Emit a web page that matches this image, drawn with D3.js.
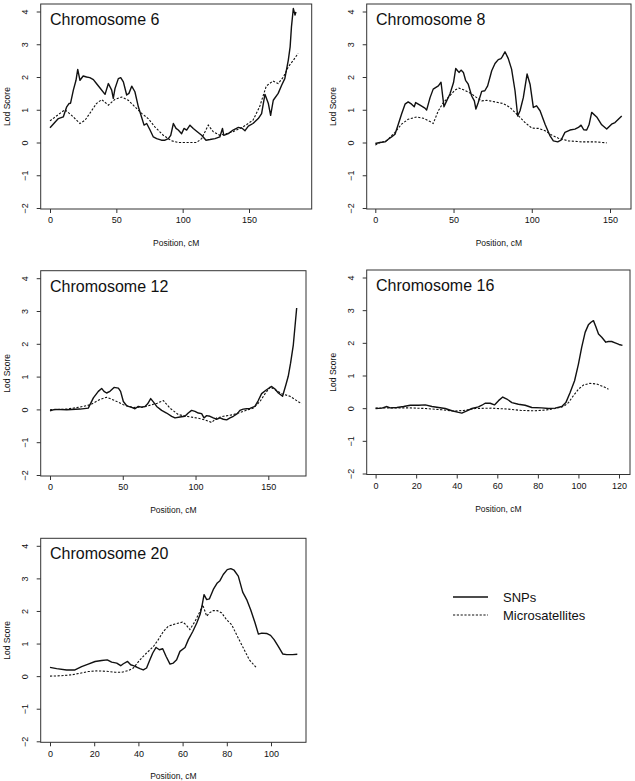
<!DOCTYPE html>
<html><head><meta charset="utf-8">
<script src="https://cdn.jsdelivr.net/npm/d3@7"></script>
<style>
html,body{margin:0;padding:0;background:#fff;}
svg{display:block;font-family:"Liberation Sans",Arial,Helvetica,sans-serif;}
</style></head>
<body>
<svg id="chart" width="635" height="781"></svg>
<script>
// ---------- DATA ----------
const chromosomes = ["Chromosome 6","Chromosome 8","Chromosome 12","Chromosome 16","Chromosome 20"];
const seriesNames = ["SNPs","Microsatellites"];
const yTicks = [-2,-1,0,1,2,3,4];
const xTicks6 = [0,50,100,150];
const xTicks8 = [0,50,100,150];
const xTicks12 = [0,50,100,150];
const xTicks16 = [0,20,40,60,80,100,120];
const xTicks20 = [0,20,40,60,80,100];

const chr6Snp = [[0,0.45],[6.3,0.73],[10,0.78],[12.6,1.09],[14.3,1.19],[15.5,1.2],[17.6,1.6],[19.6,1.9],[20.9,2.23],[22.6,1.9],[25,2.03],[27.6,2.0],[30,1.98],[32.7,1.92],[35,1.8],[38,1.65],[41.5,1.47],[44,1.8],[46.5,1.6],[47.7,1.35],[49,1.65],[51.5,1.95],[53.3,1.98],[55.3,1.85],[57.8,1.45],[59.5,1.5],[61.6,1.72],[64,1.55],[66.6,1.09],[69,0.78],[70.9,0.53],[72.9,0.58],[75.4,0.38],[77.9,0.17],[80.4,0.12],[84,0.07],[86.7,0.07],[89.2,0.12],[91,0.22],[93,0.58],[95,0.43],[96.7,0.38],[99.2,0.27],[101,0.43],[103,0.38],[105.5,0.53],[108,0.43],[111,0.33],[114.3,0.22],[117.6,0.07],[120.6,0.09],[124.4,0.12],[128,0.17],[130,0.43],[131,0.22],[134.4,0.27],[138,0.38],[142,0.46],[145,0.43],[147,0.36],[149.5,0.5],[153,0.58],[157,0.73],[159.5,0.88],[162,1.47],[164.6,1.19],[166.3,0.83],[168.3,1.29],[172,1.5],[174.6,1.75],[177,1.95],[179.6,2.51],[181,2.92],[182,3.53],[183.4,4.09],[184.7,3.89],[185.4,3.99]];
const chr6Ms = [[0,0.66],[7.5,0.89],[11.3,1.0],[16.3,0.83],[22.6,0.58],[26.4,0.68],[30,0.89],[35,1.19],[39,1.31],[44,1.14],[49,1.32],[54,1.39],[59,1.29],[64,1.09],[69,0.89],[74,0.73],[79,0.48],[85.4,0.22],[91.7,0.05],[96.7,0],[103,0],[110.5,0],[114.3,0.12],[119.3,0.53],[123,0.33],[128,0.22],[133,0.27],[138,0.33],[145.7,0.48],[153,0.68],[158,1.09],[163,1.72],[168,1.88],[172,1.8],[176,2.0],[179.6,2.31],[183.4,2.51],[187,2.72]];

const chr8Snp = [[0,-0.03],[3,0],[6.2,0.02],[8.3,0.1],[10.4,0.17],[12.6,0.25],[14.7,0.56],[16.8,0.87],[19,1.17],[21,1.24],[23.2,1.17],[24.9,1.09],[25.8,1.22],[28.6,1.14],[31.7,1.05],[32.8,0.99],[35,1.37],[37,1.63],[40.3,1.73],[42,1.84],[43.9,1.09],[45.6,1.27],[47.7,1.48],[50,1.83],[51.4,2.26],[52.6,2.19],[53.5,2.14],[54.8,2.21],[56.3,2.14],[57.7,1.9],[59.4,1.78],[61.6,1.42],[63.3,1.27],[64.3,1.02],[65.8,1.22],[68,1.56],[70,1.58],[71.8,1.73],[74.4,2.19],[76.5,2.41],[78.6,2.53],[80.3,2.56],[81.2,2.62],[82.9,2.77],[85,2.56],[87.1,2.24],[89.3,1.58],[91,0.81],[92.5,0.97],[94.6,1.37],[97,2.09],[98.9,1.78],[101,1.07],[103.1,1.12],[105.3,0.97],[108.5,0.56],[111.7,0.2],[113.8,0.05],[116.6,0.02],[118.7,0.07],[121.2,0.31],[124.4,0.38],[127.6,0.41],[129.8,0.46],[131.5,0.53],[133.2,0.39],[135.1,0.38],[136.6,0.54],[138.3,0.92],[141.5,0.78],[144.7,0.54],[147.9,0.41],[151,0.56],[153.2,0.61],[157.5,0.81]];
const chr8Ms = [[0,-0.08],[3,0],[7.2,0.05],[12.6,0.31],[16.8,0.56],[21,0.71],[26.4,0.78],[30.7,0.74],[35,0.64],[37,0.58],[40.3,0.97],[43.5,1.22],[47.7,1.43],[50.9,1.6],[53.5,1.66],[56.9,1.6],[61.6,1.48],[65.4,1.35],[68,1.27],[71.2,1.29],[76.5,1.24],[81.8,1.19],[86.1,1.07],[90.3,0.87],[95.7,0.61],[100,0.44],[104.2,0.43],[108.5,0.36],[112.7,0.23],[117,0.13],[123.4,0.05],[131.9,0.02],[140.4,0.02],[147.9,-0.01]];

const chr12Snp = [[0,-0.04],[3.4,0],[11.5,-0.01],[20.6,0.01],[26.3,0.04],[29.8,0.35],[33.2,0.55],[35.5,0.64],[37.1,0.55],[38.9,0.5],[41.2,0.55],[44,0.67],[47,0.65],[48.5,0.55],[50.4,0.24],[52.7,0.11],[56.1,0.06],[58.4,0.02],[60.7,0.09],[63,0.07],[65.3,0.09],[67.1,0.17],[69.2,0.33],[71,0.23],[73.3,0.09],[76.7,-0.03],[80.1,-0.11],[83.6,-0.21],[85.9,-0.26],[89.3,-0.23],[92.7,-0.21],[95,-0.11],[97.3,-0.03],[99.6,-0.06],[101.9,-0.11],[104.2,-0.13],[105.8,-0.26],[107.6,-0.19],[109.9,-0.21],[112.2,-0.26],[114.5,-0.3],[116.8,-0.26],[119.1,-0.3],[121.4,-0.32],[123.7,-0.26],[126,-0.21],[128.7,-0.13],[130.5,-0.03],[132.8,0.01],[135.1,0.02],[137.4,0.03],[140.8,0.09],[143.1,0.27],[145.4,0.48],[148.8,0.6],[152.3,0.7],[154.6,0.62],[156.9,0.5],[159.8,0.4],[162.1,0.75],[163.7,1.01],[165.3,1.41],[167.2,1.97],[169.5,3.09]];
const chr12Ms = [[0,-0.01],[11.5,0.01],[20.6,0.07],[27.5,0.14],[34.3,0.3],[38.9,0.37],[44.6,0.27],[50.4,0.14],[57.2,0.06],[64.1,0.07],[69.8,0.14],[73.7,0.19],[77.9,0.27],[82.4,0.04],[88.2,-0.16],[93.9,-0.21],[100.8,-0.26],[106.5,-0.32],[111.1,-0.4],[114.5,-0.26],[119.1,-0.21],[126,-0.16],[132.8,-0.06],[139.7,0.04],[144.3,0.24],[147.8,0.48],[151.2,0.68],[154.7,0.6],[159.2,0.48],[164.9,0.4],[172.9,0.17]];

const chr16Snp = [[0,-0.01],[3.1,0],[5.6,0.05],[7.2,0.01],[10.5,0.02],[13.8,0.05],[17.1,0.09],[21.2,0.09],[24.5,0.1],[27.8,0.05],[31,0.02],[34.3,-0.01],[37.6,-0.08],[40.9,-0.13],[42.5,-0.15],[45,-0.08],[47.5,-0.01],[50.7,0.04],[52.4,0.09],[54,0.15],[56.5,0.15],[58.6,0.1],[60.6,0.23],[62.7,0.34],[64.7,0.28],[67.2,0.17],[70.4,0.12],[73.7,0.09],[77,0.02],[81.9,0.01],[85.2,-0.01],[88.5,0],[91.8,0.05],[93.8,0.17],[95.9,0.48],[98.1,0.84],[100,1.35],[101.6,1.86],[103.3,2.32],[104.9,2.55],[106.2,2.63],[107.4,2.68],[108.5,2.51],[109.9,2.27],[111.5,2.17],[113.5,2.02],[114.8,2.04],[116.4,2.04],[118.1,2.0],[120,1.95],[121.7,1.92]];
const chr16Ms = [[0,0],[6.4,0.01],[16.3,0.01],[24.5,-0.01],[32.7,-0.05],[39.2,-0.09],[43.3,-0.07],[49.1,-0.01],[57.3,0],[65.5,-0.03],[72.1,-0.07],[78.7,-0.08],[83.6,-0.06],[88.5,-0.01],[92.6,0.05],[95.1,0.17],[97.5,0.38],[100,0.58],[102.5,0.71],[105.7,0.76],[109,0.74],[112.3,0.66],[114.8,0.58]];

const chr20Snp = [[0,0.27],[3,0.23],[7.5,0.19],[11.3,0.19],[14.3,0.29],[17.3,0.37],[20.4,0.45],[23.4,0.48],[25.9,0.5],[27.9,0.43],[30.2,0.4],[32,0.32],[33.2,0.38],[35.1,0.45],[36.5,0.35],[37.7,0.32],[39.2,0.28],[40.7,0.23],[42.2,0.19],[43.7,0.25],[45.2,0.5],[46.5,0.71],[48,0.88],[49.5,0.81],[51,0.84],[52.5,0.61],[54.3,0.37],[55.8,0.4],[57.3,0.5],[58.8,0.76],[61.1,0.88],[62.6,1.12],[64.6,1.37],[66.4,1.63],[67.9,1.89],[68.6,2.09],[69.7,2.5],[70.9,2.35],[72.1,2.37],[73.9,2.66],[75.7,2.86],[76.9,2.93],[78.4,3.12],[80.2,3.27],[81.8,3.3],[83.3,3.25],[85.2,3.07],[87.2,2.58],[89,2.35],[90.8,2.04],[92.8,1.63],[94.3,1.29],[95.8,1.32],[98,1.31],[99.8,1.25],[101.4,1.12],[103.3,0.91],[105.3,0.68],[107.1,0.66],[109.8,0.66],[111.9,0.67]];
const chr20Ms = [[0,0],[4.5,0.01],[9.8,0.04],[13.6,0.09],[17.3,0.14],[21.1,0.16],[25.6,0.15],[29.4,0.12],[32.4,0.12],[35.4,0.17],[37.7,0.25],[40.7,0.5],[43.7,0.71],[46.8,0.91],[49,1.12],[51.3,1.37],[53.5,1.53],[56.6,1.6],[60,1.66],[61.5,1.58],[63.3,1.43],[65.6,1.68],[67.9,1.99],[69.1,2.19],[70.9,1.84],[72.1,1.94],[73.9,2.01],[75.7,2.01],[77.7,1.94],[79.9,1.73],[82.2,1.58],[84.8,1.22],[87.5,0.86],[90.2,0.5],[93.5,0.25]];

// ---------- LAYOUT ----------
const panels = [
  {title:chromosomes[0], snp:chr6Snp, ms:chr6Ms, xticks:xTicks6, box:[40.7,4,311.7,209], xa:[0,50], xb:[150,249]},
  {title:chromosomes[1], snp:chr8Snp, ms:chr8Ms, xticks:xTicks8, box:[366.7,4,631,209], xa:[0,375.3], xb:[150,610]},
  {title:chromosomes[2], snp:chr12Snp, ms:chr12Ms, xticks:xTicks12, box:[40.7,270.7,306,476], xa:[0,50], xb:[150,268.3]},
  {title:chromosomes[3], snp:chr16Snp, ms:chr16Ms, xticks:xTicks16, box:[366.7,270,630,474.5], xa:[0,375.6], xb:[120,619]},
  {title:chromosomes[4], snp:chr20Snp, ms:chr20Ms, xticks:xTicks20, box:[40.7,538.3,306,742.3], xa:[0,50], xb:[100,271]}
];

const svg = d3.select("#chart");
const FONT_TICK = 9, FONT_LAB = 8.5, INK = "#111", BOXC = "#333";

panels.forEach(p => {
  const [L,T,R,B] = p.box;
  const x = d3.scaleLinear().domain([p.xa[0], p.xb[0]]).range([p.xa[1], p.xb[1]]);
  const y = d3.scaleLinear().domain([-2,4]).range([B-1, T+7.5]);
  const g = svg.append("g");

  // box
  g.append("rect").attr("x",L).attr("y",T).attr("width",R-L).attr("height",B-T)
    .attr("fill","none").attr("stroke",BOXC).attr("stroke-width",1);

  // x axis
  const xAxis = d3.axisBottom(x).tickValues(p.xticks).tickSize(4).tickPadding(4).tickFormat(d3.format("d"));
  const gx = g.append("g").attr("transform",`translate(0,${B})`).call(xAxis);
  gx.select(".domain").remove();
  gx.selectAll("line").attr("stroke",BOXC);
  gx.selectAll("text").attr("font-size",FONT_TICK).attr("fill",INK).attr("font-family",null);

  // y axis (labels rotated, parallel to axis)
  const yAxis = d3.axisLeft(y).tickValues(yTicks).tickSize(4).tickFormat(d3.format("d"));
  const gy = g.append("g").attr("transform",`translate(${L},0)`).call(yAxis);
  gy.select(".domain").remove();
  gy.selectAll("line").attr("stroke",BOXC);
  gy.selectAll("text").attr("font-size",FONT_TICK).attr("fill",INK).attr("font-family",null)
    .attr("x",null).attr("dy",null)
    .attr("text-anchor","middle")
    .attr("transform","translate(-12.5,0) rotate(-90)");

  // axis titles
  g.append("text").attr("x",(L+R)/2).attr("y",B+37).attr("text-anchor","middle")
    .attr("font-size",FONT_LAB).attr("fill",INK).text("Position, cM");
  g.append("text").attr("transform",`translate(${L-31},${(T+B)/2}) rotate(-90)`)
    .attr("text-anchor","middle").attr("font-size",FONT_LAB).attr("fill",INK).text("Lod Score");

  // panel title
  g.append("text").attr("x",L+9.3).attr("y",T+21).attr("font-size",16).attr("fill",INK).text(p.title);

  const line = d3.line().x(d=>x(d[0])).y(d=>y(d[1]));
  g.append("path").datum(p.ms).attr("d",line).attr("fill","none")
    .attr("stroke",INK).attr("stroke-width",1.1).attr("stroke-dasharray","2.2,1.6");
  g.append("path").datum(p.snp).attr("d",line).attr("fill","none")
    .attr("stroke",INK).attr("stroke-width",1.4).attr("stroke-linejoin","round");
});

// legend
const leg = svg.append("g");
seriesNames.forEach((name,i) => {
  const yy = 597 + i*18;
  leg.append("line").attr("x1",453).attr("x2",488).attr("y1",yy).attr("y2",yy)
    .attr("stroke",INK).attr("stroke-width", i===0?1.6:1.2)
    .attr("stroke-dasharray", i===0?null:"2.2,1.6");
  leg.append("text").attr("x",503).attr("y",yy).attr("dy","0.36em")
    .attr("font-size",13).attr("fill",INK).text(name);
});
</script>
</body></html>
